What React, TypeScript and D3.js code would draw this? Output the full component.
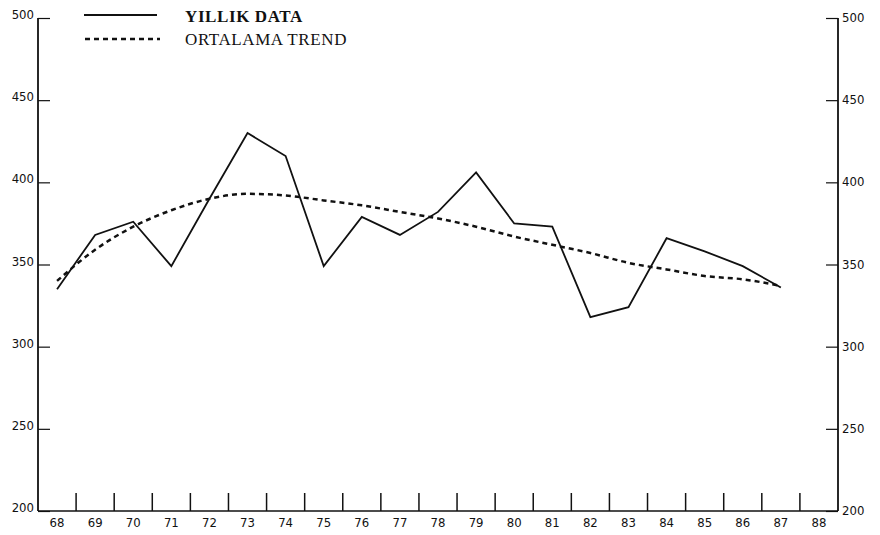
import React, { useEffect, useRef } from 'react';
import * as d3 from 'd3';

// Years (19xx) on the x axis
const years: number[] = [68, 69, 70, 71, 72, 73, 74, 75, 76, 77, 78, 79, 80, 81, 82, 83, 84, 85, 86, 87, 88];

// Yearly data (solid line), 68..87
const yearlyData: number[] = [335, 368, 376, 349, 390, 430, 416, 349, 379, 368, 382, 406, 375, 373, 318, 324, 366, 358, 349, 336];

// Average trend (dashed line), 68..87
const trendData: number[] = [340, 359, 373, 383, 390, 393, 392, 389, 386, 382, 378, 373, 367, 362, 357, 351, 347, 343, 341, 337];

const yTicks: number[] = [200, 250, 300, 350, 400, 450, 500];

const App: React.FC = () => {
  const ref = useRef<SVGSVGElement>(null);

  useEffect(() => {
    const width = 880;
    const height = 535;
    const left = 38;
    const right = 838;
    const top = 18;
    const bottom = 511;

    const svg = d3.select(ref.current).attr('width', width).attr('height', height);
    svg.selectAll('*').remove();

    const x = d3.scaleBand<number>().domain(years).range([left, right]).padding(0);
    const y = d3.scaleLinear().domain([200, 500]).range([bottom, top]);
    const cx = (i: number) => (x(years[i]) as number) + x.bandwidth() / 2;

    const axisFont = '"DejaVu Sans Condensed", "DejaVu Sans", sans-serif';

    // Left and right axes
    const leftAxis = svg.append('g')
      .attr('transform', `translate(${left},0)`)
      .call(d3.axisRight(y).tickValues(yTicks).tickSize(12).tickFormat(() => ''));
    const rightAxis = svg.append('g')
      .attr('transform', `translate(${right},0)`)
      .call(d3.axisLeft(y).tickValues(yTicks).tickSize(12).tickFormat(() => ''));
    [leftAxis, rightAxis].forEach(g => {
      g.select('.domain').remove();
      g.selectAll('line').attr('stroke', '#111').attr('stroke-width', 1.2);
    });
    svg.append('line')
      .attr('x1', left).attr('x2', left).attr('y1', top).attr('y2', bottom)
      .attr('stroke', '#111').attr('stroke-width', 1.8);
    svg.append('line')
      .attr('x1', right).attr('x2', right).attr('y1', top).attr('y2', bottom)
      .attr('stroke', '#111').attr('stroke-width', 1.8);

    // Tick labels on both sides
    svg.append('g').selectAll('text')
      .data(yTicks)
      .enter()
      .append('text')
      .attr('x', left - 4)
      .attr('y', d => y(d) + 1)
      .attr('text-anchor', 'end')
      .attr('font-family', axisFont)
      .attr('font-size', 13)
      .attr('fill', '#111')
      .text(d => d);
    svg.append('g').selectAll('text')
      .data(yTicks)
      .enter()
      .append('text')
      .attr('x', right + 4)
      .attr('y', d => y(d) + 4)
      .attr('text-anchor', 'start')
      .attr('font-family', axisFont)
      .attr('font-size', 13)
      .attr('fill', '#111')
      .text(d => d);

    // Bottom axis: ticks on the band boundaries
    svg.append('line')
      .attr('x1', left).attr('x2', right).attr('y1', bottom).attr('y2', bottom)
      .attr('stroke', '#111').attr('stroke-width', 1.3);
    svg.append('g').selectAll('line')
      .data(years.slice(1))
      .enter()
      .append('line')
      .attr('x1', d => x(d) as number)
      .attr('x2', d => x(d) as number)
      .attr('y1', bottom)
      .attr('y2', bottom - 18)
      .attr('stroke', '#111')
      .attr('stroke-width', 1.5);
    svg.append('g').selectAll('text')
      .data(years)
      .enter()
      .append('text')
      .attr('x', d => (x(d) as number) + x.bandwidth() / 2)
      .attr('y', bottom + 16)
      .attr('text-anchor', 'middle')
      .attr('font-family', axisFont)
      .attr('font-size', 13)
      .attr('fill', '#111')
      .text(d => d);

    const line = d3.line<number>()
      .x((_, i) => cx(i))
      .y(d => y(d));

    // Trend (dashed)
    svg.append('path')
      .datum(trendData)
      .attr('d', d3.line<number>().x((_, i) => cx(i)).y(d => y(d)).curve(d3.curveMonotoneX))
      .attr('fill', 'none')
      .attr('stroke', '#111')
      .attr('stroke-width', 2.5)
      .attr('stroke-dasharray', '5,4');

    // Yearly data (solid)
    svg.append('path')
      .datum(yearlyData)
      .attr('d', line)
      .attr('fill', 'none')
      .attr('stroke', '#111')
      .attr('stroke-width', 1.8)
      .attr('stroke-linejoin', 'miter');

    // Legend
    const legendFont = '"Liberation Serif", "DejaVu Serif", serif';
    svg.append('line')
      .attr('x1', 84).attr('x2', 157).attr('y1', 15).attr('y2', 15)
      .attr('stroke', '#111').attr('stroke-width', 2.2);
    svg.append('text')
      .attr('x', 185).attr('y', 22)
      .attr('font-family', legendFont)
      .attr('font-size', 17)
      .attr('font-weight', 'bold')
      .attr('letter-spacing', 0.6)
      .attr('fill', '#111')
      .text('YILLIK DATA');
    svg.append('line')
      .attr('x1', 85).attr('x2', 160).attr('y1', 39).attr('y2', 39)
      .attr('stroke', '#111').attr('stroke-width', 2.5)
      .attr('stroke-dasharray', '5,4');
    svg.append('text')
      .attr('x', 185).attr('y', 45)
      .attr('font-family', legendFont)
      .attr('font-size', 17)
      .attr('letter-spacing', 0.6)
      .attr('fill', '#111')
      .text('ORTALAMA TREND');
  }, []);

  return (
    <div>
      <svg ref={ref} style={{ position: 'absolute', left: 0, top: 0, background: '#fff' }}></svg>
    </div>
  );
};

export default App;
